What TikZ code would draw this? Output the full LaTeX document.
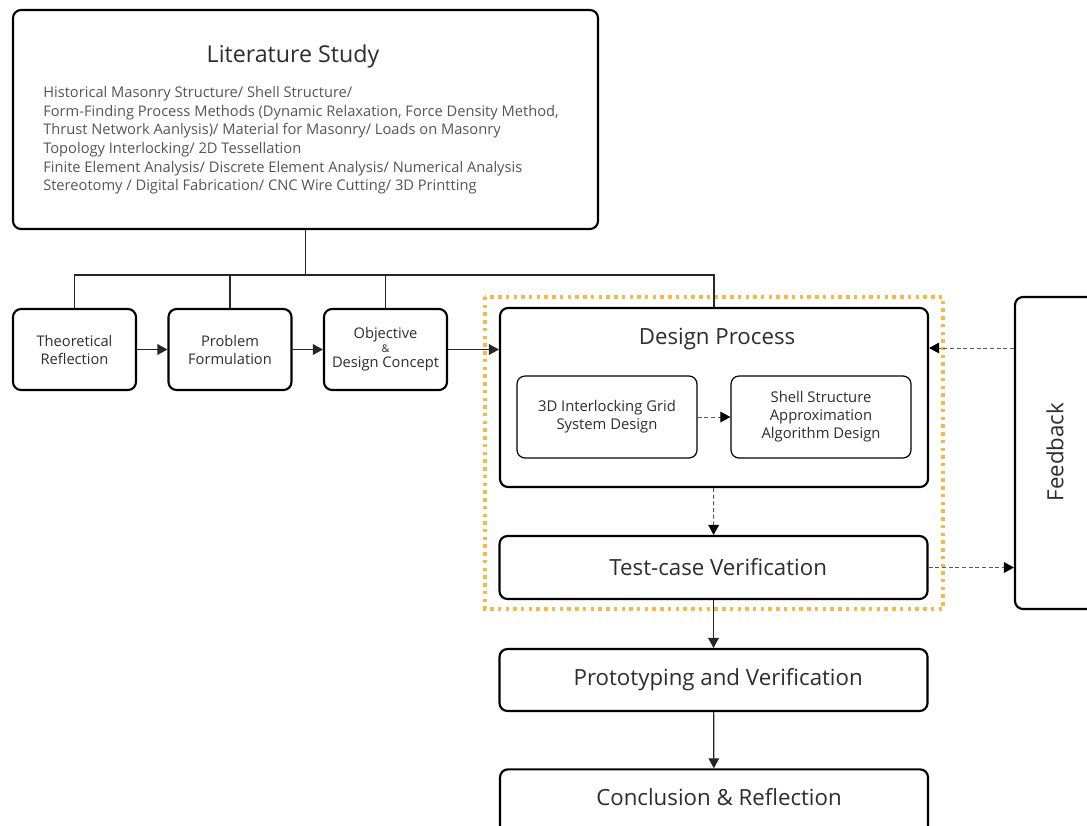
\documentclass[tikz,border=0pt]{standalone}
\usepackage{fontspec}
\setmainfont{Open Sans}
\usepackage{xcolor}
\usetikzlibrary{arrows.meta,calc}

\definecolor{frameorange}{RGB}{247,184,70}
\definecolor{txtgray}{RGB}{45,45,45}
\definecolor{bodygray}{RGB}{85,85,85}

\tikzset{
  box/.style={draw=black, line width=1.6pt, rounded corners=6pt, fill=white,
    align=center, text=txtgray, inner sep=0pt},
  smallbox/.style={box, minimum width=92.25pt, minimum height=60.75pt,
    font=\fontsize{11}{13.5}\selectfont},
  subbox/.style={box, line width=0.9pt, minimum width=135pt, minimum height=61.5pt,
    font=\fontsize{11.1}{13.5}\selectfont},
  widebox/.style={box, minimum width=321pt, font=\fontsize{16.7}{19}\selectfont,
    execute at begin node=\hspace*{7pt}},
  link/.style={line width=0.9pt, black!85},
  arrow/.style={link, -{Triangle[length=7.5pt,width=8pt]}},
  dasharrow/.style={line width=0.75pt, black!65, dash pattern=on 3pt off 2pt,
    -{Triangle[length=7.5pt,width=8pt,fill=black,color=black]}},
}

\begin{document}
\begin{tikzpicture}[x=0.75pt, y=-0.75pt]
  % page size, in pixels of the reference
  \useasboundingbox (0,0) rectangle (1087,825);
  \clip (0,0) rectangle (1087,825);

  % heights of the side connectors
  \coordinate (bus) at (0,275);
  \coordinate (fbin) at (0,348);

  % Orange frame round the design stage
  \draw[frameorange, line width=3.3pt, dash pattern=on 2.6pt off 3.2pt]
    (485,297) rectangle (943,609);

  % Literature study
  \node[box, minimum width=438.75pt, minimum height=164.25pt] (lit) at (305.5,119.5) {};
  \node[text=txtgray, font=\fontsize{17.4}{20}\selectfont] (littitle) at (293,56) {Literature Study};
  \node[anchor=north west, align=left, text=bodygray, inner sep=0pt,
    font=\fontsize{11}{14}\selectfont] (litbody) at (43,86)
    {Historical Masonry Structure/ Shell Structure/\\
     Form-Finding Process Methods (Dynamic Relaxation, Force Density Method,\\
     Thrust Network Aanlysis)/ Material for Masonry/ Loads on Masonry\\
     Topology Interlocking/ 2D Tessellation\\
     Finite Element Analysis/ Discrete Element Analysis/ Numerical Analysis\\
     Stereotomy / Digital Fabrication/ CNC Wire Cutting/ 3D Printting};

  % First row
  \node[smallbox] (theo) at (74.5,349.5) {Theoretical\\Reflection};
  \node[smallbox] (prob) at (230,349.5) {Problem\\Formulation};
  \node[smallbox] (obj) at (385.5,349.5)
    {Objective\\[-3pt]{\fontsize{8}{9}\selectfont\&}\\[-2pt]Design Concept};

  % Design process with its two parts
  \node[box, minimum width=321pt, minimum height=134.25pt] (dp) at (714,397.5) {};
  \node[text=txtgray, font=\fontsize{16.7}{19}\selectfont] (dptitle) at (717,339) {Design Process};
  \node[subbox] (grid) at (607,417) {3D Interlocking Grid\\System Design};
  \node[subbox] (shell) at (821,417) {Shell Structure\\Approximation\\Algorithm Design};

  \node[widebox, minimum height=47.25pt] (test) at (713.5,567.5) {Test-case Verification};
  \node[widebox, minimum height=46.5pt] (proto) at (713.5,680) {Prototyping and Verification};
  \node[box, minimum width=321pt, minimum height=52pt] (concl) at (714,804) {};
  \node[text=txtgray, font=\fontsize{16.7}{19}\selectfont] (concltext) at (719,797) {Conclusion \& Reflection};

  % Feedback
  \node[box, minimum width=63.75pt, minimum height=234pt] (fb) at (1057.5,453) {};
  \node[rotate=90, text=txtgray, font=\fontsize{16.7}{19}\selectfont] (fbtext) at (1055,452) {Feedback};

  % Tree from the literature study
  \draw[link] (lit.south) -- (lit.south |- bus);
  \draw[link] (theo.north) -- (theo.north |- bus) -- (dp.north |- bus) -- (dp.north);
  \draw[link] (prob.north) -- (prob.north |- bus);
  \draw[link] (obj.north) -- (obj.north |- bus);

  % Flow
  \draw[arrow] (theo) -- (prob);
  \draw[arrow] (prob) -- (obj);
  \draw[arrow] (obj.east) -- (obj.east -| dp.west);
  \draw[dasharrow] (grid) -- (shell);
  \draw[dasharrow] (dp) -- (test);
  \draw[arrow] (test) -- (proto);
  \draw[arrow] (proto) -- (concl);
  \draw[dasharrow] (fb.west |- fbin) -- (dp.east |- fbin);
  \draw[dasharrow] (test.east) -- (test.east -| fb.west);

\end{tikzpicture}
\end{document}
